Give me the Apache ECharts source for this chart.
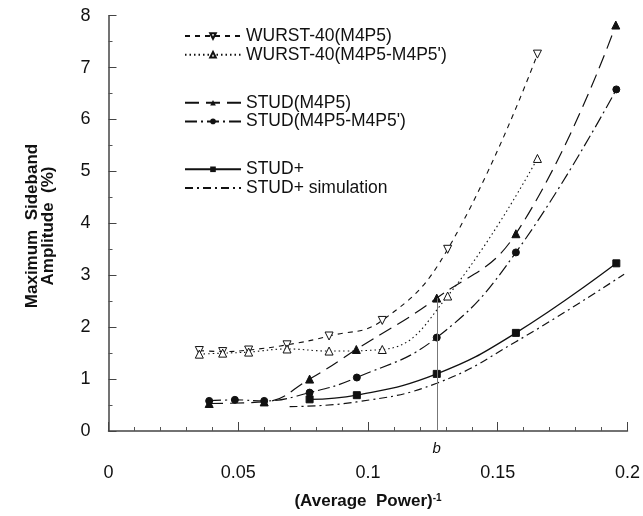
<!DOCTYPE html>
<html>
<head>
<meta charset="utf-8">
<script src="https://cdn.jsdelivr.net/npm/echarts@6/dist/echarts.min.js"></script>
<style>
html,body{margin:0;padding:0;background:#fff;}
#chart{width:643px;height:516px;}
</style>
</head>
<body>
<div id="chart"></div>
<script>
// ---- data ----
const wurstX   = [0.035, 0.044, 0.054, 0.0688, 0.085, 0.1055, 0.1307, 0.1653];
const wurstA   = [1.55, 1.53, 1.56, 1.66, 1.83, 2.13, 3.50, 7.26];   // WURST-40(M4P5)
const wurstB   = [1.48, 1.50, 1.52, 1.58, 1.54, 1.57, 2.60, 5.25];   // WURST-40(M4P5-M4P5')
const studAX   = [0.0388, 0.060, 0.0775, 0.0955, 0.1265, 0.157, 0.1955];
const studA    = [0.53, 0.56, 1.00, 1.57, 2.56, 3.80, 7.82];          // STUD(M4P5)
const studBX   = [0.0388, 0.0487, 0.060, 0.0775, 0.0957, 0.1265, 0.157, 0.1957];
const studB    = [0.58, 0.60, 0.58, 0.74, 1.03, 1.80, 3.44, 6.58];    // STUD(M4P5-M4P5')
const studPX   = [0.0775, 0.0957, 0.1265, 0.157, 0.1957];
const studP    = [0.61, 0.69, 1.10, 1.89, 3.23];                      // STUD+
const simX     = [0.0698, 0.0957, 0.1265, 0.157, 0.1987];
const simY     = [0.47, 0.56, 0.92, 1.72, 3.02];                      // STUD+ simulation
const seriesNames = ['WURST-40(M4P5)', "WURST-40(M4P5-M4P5')", 'STUD(M4P5)', "STUD(M4P5-M4P5')", 'STUD+', 'STUD+ simulation'];
const xTicks = [0, 0.05, 0.1, 0.15, 0.2];
const yTicks = [0, 1, 2, 3, 4, 5, 6, 7, 8];
const bLineX = 0.1265, bLineTop = 2.56, bLabel = 'b';
const xTitle = '(Average  Power)';
const xTitleSup = '-1';
const yTitle = 'Maximum  Sideband\nAmplitude  (%)';

const pair = (xs, ys) => xs.map((x, i) => [x, ys[i]]);
const FONT = 'Liberation Sans, Arial, Helvetica, sans-serif';

const chart = echarts.init(document.getElementById('chart'));
const baseLine = {type: 'line', smooth: 0.45, z: 3};

const option = {
  animation: false,
  backgroundColor: '#fff',
  textStyle: {fontFamily: FONT},
  grid: {left: 108.5, right: 14, top: 15.7, bottom: 85},
  legend: [
    {data: [seriesNames[0], seriesNames[1]], orient: 'vertical', left: 184, top: 27},
    {data: [seriesNames[2], seriesNames[3]], orient: 'vertical', left: 184, top: 93.7},
    {data: [seriesNames[4], seriesNames[5]], orient: 'vertical', left: 184, top: 160.3}
  ].map(l => Object.assign(l, {
    itemWidth: 56, itemHeight: 7, itemGap: 0.7, padding: 0,
    textStyle: {fontSize: 17.5, lineHeight: 16, color: '#111', fontFamily: FONT}
  })),
  xAxis: {
    type: 'value', min: xTicks[0], max: xTicks[xTicks.length - 1], interval: 0.05,
    axisLine: {lineStyle: {color: '#444', width: 1.5}},
    axisTick: {inside: true, length: 9, lineStyle: {color: '#444'}},
    minorTick: {show: true, splitNumber: 5, length: 4, lineStyle: {color: '#555'}},
    splitLine: {show: false},
    axisLabel: {fontSize: 18, color: '#111', margin: 33, fontFamily: FONT},
    name: '{t|' + xTitle + '}{s|' + xTitleSup + '}',
    nameLocation: 'middle', nameGap: 62,
    nameTextStyle: {
      rich: {
        t: {fontSize: 17, fontWeight: 'bold', color: '#111', fontFamily: FONT},
        s: {fontSize: 10, fontWeight: 'bold', color: '#111', verticalAlign: 'top', fontFamily: FONT}
      }
    }
  },
  yAxis: {
    type: 'value', min: yTicks[0], max: yTicks[yTicks.length - 1], interval: 1,
    axisLine: {show: true, lineStyle: {color: '#444', width: 1.5}},
    axisTick: {show: true, inside: true, length: 8, lineStyle: {color: '#444'}},
    minorTick: {show: true, splitNumber: 2, length: 4, lineStyle: {color: '#555'}},
    splitLine: {show: false},
    axisLabel: {fontSize: 18, color: '#111', margin: 18, fontFamily: FONT}
  },
  graphic: [{
    type: 'text', x: 40, y: 226, rotation: Math.PI / 2,
    style: {text: yTitle, fontSize: 17, fontWeight: 'bold', fill: '#111', fontFamily: FONT,
            align: 'center', verticalAlign: 'middle', lineHeight: 16}
  }],
  series: [
    Object.assign({}, baseLine, {
      name: seriesNames[0], data: pair(wurstX, wurstA),
      symbol: 'triangle', symbolRotate: 180, symbolSize: 8,
      itemStyle: {color: '#fff', borderColor: '#111', borderWidth: 1},
      lineStyle: {color: '#111', width: 1.1, type: [5, 5]}
    }),
    Object.assign({}, baseLine, {
      name: seriesNames[1], data: pair(wurstX, wurstB),
      symbol: 'triangle', symbolSize: 8,
      itemStyle: {color: '#fff', borderColor: '#111', borderWidth: 1},
      lineStyle: {color: '#111', width: 1.1, type: [1.5, 3]}
    }),
    Object.assign({}, baseLine, {
      name: seriesNames[2], data: pair(studAX, studA),
      symbol: 'triangle', symbolSize: 8,
      itemStyle: {color: '#111', borderColor: '#111'},
      lineStyle: {color: '#111', width: 1.2, type: [14, 7]},
      markLine: {
        silent: true, symbol: 'none',
        lineStyle: {color: '#777', width: 1, type: 'solid'},
        label: {show: true, position: 'start', formatter: bLabel, fontStyle: 'italic',
                fontSize: 15, color: '#111', distance: 10, fontFamily: FONT},
        data: [[{coord: [bLineX, 0]}, {coord: [bLineX, bLineTop]}]]
      }
    }),
    Object.assign({}, baseLine, {
      name: seriesNames[3], data: pair(studBX, studB),
      symbol: 'circle', symbolSize: 7,
      itemStyle: {color: '#111', borderColor: '#111'},
      lineStyle: {color: '#111', width: 1.2, type: [12, 4, 2, 4]}
    }),
    Object.assign({}, baseLine, {
      name: seriesNames[4], data: pair(studPX, studP),
      symbol: 'rect', symbolSize: 7,
      itemStyle: {color: '#111', borderColor: '#111'},
      lineStyle: {color: '#111', width: 1.3, type: 'solid'}
    }),
    Object.assign({}, baseLine, {
      name: seriesNames[5], data: pair(simX, simY),
      symbol: 'circle', showSymbol: false,
      itemStyle: {color: 'rgba(0,0,0,0)', borderWidth: 0},
      lineStyle: {color: '#111', width: 1.2, type: [8, 4, 2, 4]}
    })
  ]
};
chart.setOption(option);
</script>
</body>
</html>
